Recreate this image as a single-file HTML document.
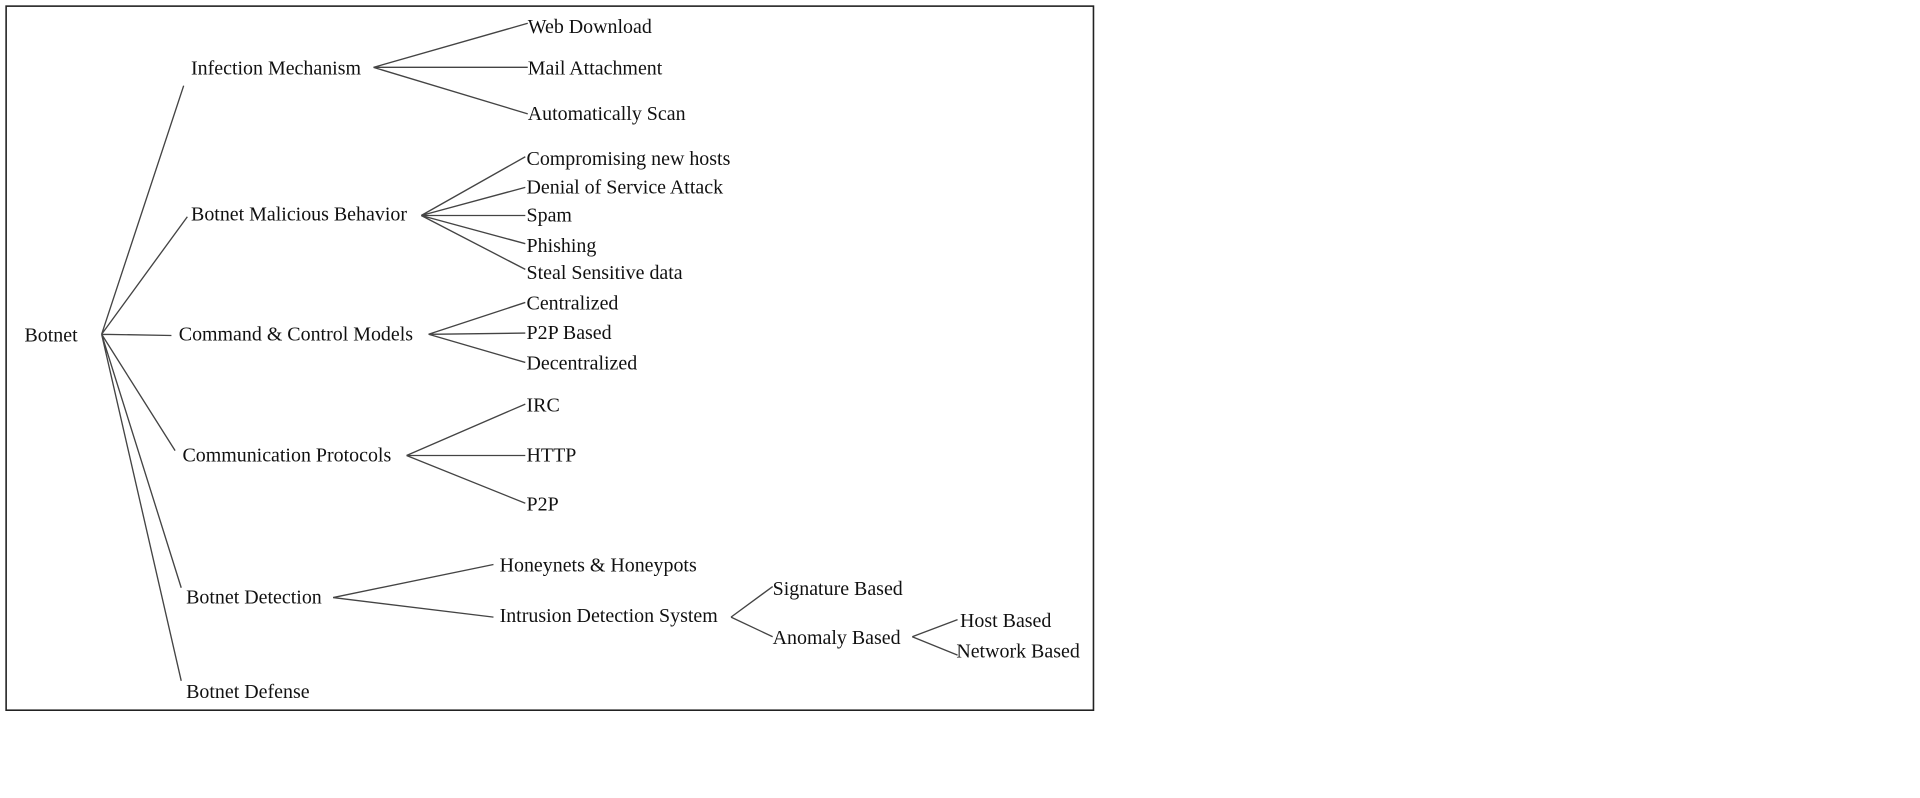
<!DOCTYPE html>
<html><head><meta charset="utf-8"><style>
html,body{margin:0;padding:0;background:#fff;width:1920px;height:798px;overflow:hidden}
svg text{font-family:"Liberation Serif",serif;font-size:16.3px;fill:#111;dominant-baseline:central}
</style></head><body>
<svg width="1920" height="798" viewBox="0 0 1568 651.7" xmlns="http://www.w3.org/2000/svg">
<rect x="5" y="5" width="888" height="575" fill="none" stroke="#222" stroke-width="1.3"/>
<g stroke="#444" stroke-width="1.1" fill="none">
<path d="M83 273L150 70M83 273L153 177M83 273L140 274M83 273L143 368M83 273L148 480M83 273L148 556"/>
<path d="M305 55L431 19M305 55L431 55M305 55L431 93"/>
<path d="M344 176L429 128M344 176L429 153M344 176L429 176M344 176L429 199M344 176L429 220"/>
<path d="M350 273L429 247M350 273L429 272M350 273L429 296"/>
<path d="M332 372L429 330M332 372L429 372M332 372L429 411"/>
<path d="M272 488L403 461M272 488L403 504"/>
<path d="M597 504L631 479M597 504L631 520"/>
<path d="M745 520L782 506M745 520L782 535"/>
</g>
<text x="20" y="274">Botnet</text>
<text x="156" y="56">Infection Mechanism</text>
<text x="156" y="175">Botnet Malicious Behavior</text>
<text x="146" y="273">Command &amp; Control Models</text>
<text x="149" y="372">Communication Protocols</text>
<text x="152" y="488">Botnet Detection</text>
<text x="152" y="565">Botnet Defense</text>
<text x="431" y="22">Web Download</text>
<text x="431" y="56">Mail Attachment</text>
<text x="431" y="93">Automatically Scan</text>
<text x="430" y="130">Compromising new hosts</text>
<text x="430" y="153">Denial of Service Attack</text>
<text x="430" y="176">Spam</text>
<text x="430" y="201">Phishing</text>
<text x="430" y="223">Steal Sensitive data</text>
<text x="430" y="248">Centralized</text>
<text x="430" y="272">P2P Based</text>
<text x="430" y="297">Decentralized</text>
<text x="430" y="331">IRC</text>
<text x="430" y="372">HTTP</text>
<text x="430" y="412">P2P</text>
<text x="408" y="462">Honeynets &amp; Honeypots</text>
<text x="408" y="503">Intrusion Detection System</text>
<text x="631" y="481">Signature Based</text>
<text x="631" y="521">Anomaly Based</text>
<text x="784" y="507">Host Based</text>
<text x="781" y="532">Network Based</text>
</svg>
</body></html>
